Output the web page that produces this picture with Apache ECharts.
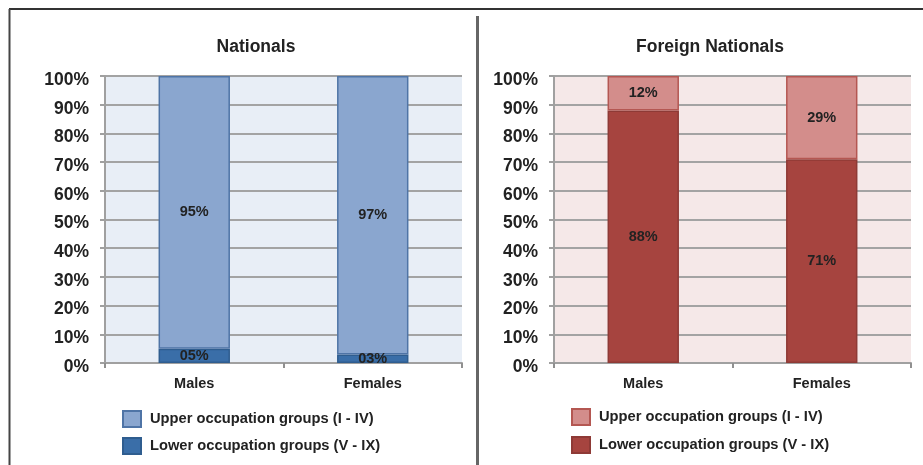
<!DOCTYPE html>
<html>
<head>
<meta charset="utf-8">
<script src="https://cdn.jsdelivr.net/npm/echarts@6/dist/echarts.min.js"></script>
<style>
  html, body { margin: 0; padding: 0; background: #ffffff; }
  #chart { width: 923px; height: 465px; }
</style>
</head>
<body>
<div id="chart"></div>
<script>
// Occupation group shares (%) by sex, for nationals and foreign nationals
const categories = ['Males', 'Females'];
const yTicks = [0, 10, 20, 30, 40, 50, 60, 70, 80, 90, 100];

const nationalsLower = [5, 3];
const nationalsUpper = [95, 97];
const foreignLower = [88, 71];
const foreignUpper = [12, 29];

const upperLabel = 'Upper occupation groups (I - IV)';
const lowerLabel = 'Lower occupation groups (V - IX)';

const panelTitles = ['Nationals', 'Foreign Nationals'];

const FONT = '"Liberation Sans", Arial, sans-serif';
const TEXT = '#222222';

const legendNames = {
  natUpper: upperLabel, natLower: lowerLabel,
  forUpper: upperLabel, forLower: lowerLabel
};

function pad2(v) { return (v < 10 ? '0' : '') + v + '%'; }

function xAxisFor(gridIndex) {
  return {
    type: 'category', gridIndex, data: categories,
    axisLine: { lineStyle: { color: '#a0a0a0', width: 2 } },
    axisTick: { show: true, length: 5, lineStyle: { color: '#909090', width: 2 } },
    axisLabel: { color: TEXT, fontFamily: FONT, fontWeight: 'bold', fontSize: 14.5, margin: 13 }
  };
}
function yAxisFor(gridIndex) {
  return {
    type: 'value', gridIndex, min: 0, max: 100, interval: 10,
    axisLine: { show: true, lineStyle: { color: '#a0a0a0', width: 2 } },
    axisTick: { show: true, length: 5, lineStyle: { color: '#a0a0a0', width: 2 } },
    splitLine: { show: true, lineStyle: { color: '#a3a3a3', width: 2 } },
    axisLabel: {
      color: TEXT, fontFamily: FONT, fontWeight: 'bold', fontSize: 17.5, margin: 16,
      verticalAlign: 'top', lineHeight: 8,
      customValues: yTicks, formatter: v => v + '%'
    }
  };
}
function barSeries(name, data, axisIndex, color, border, labelFmt) {
  return {
    name, type: 'bar', stack: 's' + axisIndex, data,
    xAxisIndex: axisIndex, yAxisIndex: axisIndex,
    barWidth: '40%',
    itemStyle: { color, borderColor: border, borderWidth: 1.5 },
    label: {
      show: true, position: 'inside', color: TEXT, fontFamily: FONT,
      fontWeight: 'bold', fontSize: 14.5, formatter: p => labelFmt(p.value)
    },
    emphasis: { disabled: true }
  };
}

const legendBase = {
  orient: 'vertical', icon: 'rect', padding: 0,
  itemWidth: 18, itemHeight: 16, itemGap: 9, selectedMode: false,
  formatter: n => legendNames[n],
  textStyle: { fontFamily: FONT, fontWeight: 'bold', fontSize: 14.7, color: TEXT, padding: [0, 0, 0, 4] }
};

const chart = echarts.init(document.getElementById('chart'), null, { renderer: 'canvas' });
chart.setOption({
  animation: false,
  backgroundColor: '#ffffff',
  title: [
    { text: panelTitles[0], left: 256, top: 38, textAlign: 'center', padding: 0,
      textStyle: { fontFamily: FONT, fontWeight: 'bold', fontSize: 17.5, color: TEXT } },
    { text: panelTitles[1], left: 710, top: 38, textAlign: 'center', padding: 0,
      textStyle: { fontFamily: FONT, fontWeight: 'bold', fontSize: 17.5, color: TEXT } }
  ],
  grid: [
    { left: 105, right: 461, top: 76, bottom: 102, show: true, backgroundColor: '#e8eef6', borderWidth: 0 },
    { left: 554, right: 12, top: 76, bottom: 102, show: true, backgroundColor: '#f5e8e8', borderWidth: 0 }
  ],
  xAxis: [xAxisFor(0), xAxisFor(1)],
  yAxis: [yAxisFor(0), yAxisFor(1)],
  legend: [
    Object.assign({}, legendBase, { data: ['natUpper', 'natLower'], left: 122, top: 410 }),
    Object.assign({}, legendBase, { data: ['forUpper', 'forLower'], left: 571, top: 408, itemGap: 10 })
  ],
  series: [
    barSeries('natLower', nationalsLower, 0, '#3a6ea8', '#2f5d8f', pad2),
    barSeries('natUpper', nationalsUpper, 0, '#8aa6cf', '#4f74a6', v => v + '%'),
    barSeries('forLower', foreignLower, 1, '#a6443f', '#8e3a36', v => v + '%'),
    barSeries('forUpper', foreignUpper, 1, '#d38d8b', '#b45752', v => v + '%')
  ],
  graphic: [
    // frame: top rule, left rule, and the divider between panels
    { type: 'line', shape: { x1: 9, y1: 9, x2: 923, y2: 9 }, style: { stroke: '#333333', lineWidth: 2 } },
    { type: 'line', shape: { x1: 9.5, y1: 9, x2: 9.5, y2: 465 }, style: { stroke: '#444444', lineWidth: 2 } },
    { type: 'line', shape: { x1: 477.5, y1: 16, x2: 477.5, y2: 465 }, style: { stroke: '#666666', lineWidth: 3 } }
  ]
});
</script>
</body>
</html>
